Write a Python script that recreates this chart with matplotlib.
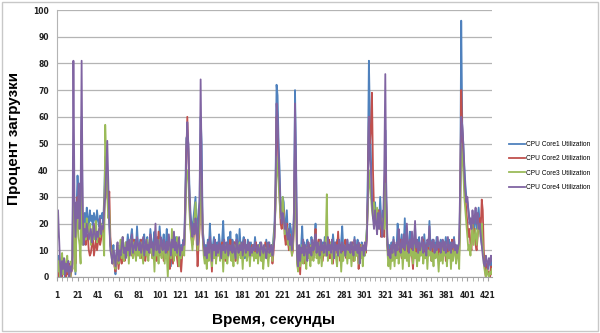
import numpy as np
import matplotlib
matplotlib.use("Agg")
import matplotlib.pyplot as plt
from matplotlib.patches import Rectangle
from matplotlib.ticker import FixedLocator

series_names = ["CPU Core1 Utilization", "CPU Core2 Utilization",
                "CPU Core3 Utilization", "CPU Core4 Utilization"]
colors = ["#4F81BD", "#C0504D", "#9BBB59", "#8064A2"]

core1 = [6, 4, 8, 2, 5, 1, 7, 3, 0, 5, 2, 6, 1, 4, 3, 8, 45, 20, 1, 25, 38, 30, 35, 22, 60,
         22, 18, 24, 20, 26, 22, 19, 25, 21, 23, 18, 24, 22, 20, 25, 21, 19, 23, 22, 24,
         20, 30, 45, 40, 35, 25, 20, 12, 10, 8,
         12, 6, 1, 9, 11, 5, 8, 12, 9, 14, 7, 10, 13, 11, 16, 12, 9, 15, 18, 13, 10, 14, 11, 19, 12,
         9, 14, 11, 8, 13, 16, 10, 12, 15, 9, 11, 18, 14, 10, 13, 17, 8, 12, 15, 11, 19, 14, 9, 13, 16,
         10, 12, 18, 7, 14, 11, 4, 13, 16, 9, 12, 15, 8, 11, 14, 5, 12, 10, 14, 13,
         30, 52, 53, 50, 35, 25, 20, 18, 22, 26, 30, 20, 18, 25, 28, 60, 50, 18, 14, 10,
         12, 8, 14, 10, 20, 13, 9, 12, 15, 11, 7, 13, 10, 16, 12, 9, 14, 21, 11, 8, 13, 10, 15, 12, 17,
         9, 14, 11, 13, 8, 16, 12, 10, 18, 11, 9, 13, 15, 7, 12, 10, 14, 11, 8, 13, 9, 12, 10, 15, 11,
         8, 12, 10, 13, 9, 11, 7, 12, 10, 14, 9, 11, 13, 8, 12, 10, 15, 20, 35,
         72, 68, 50, 40, 25, 22, 30, 28, 20, 18, 25, 16, 14, 20, 18, 12, 15, 25, 70, 45, 10,
         5, 10, 8, 12, 19, 9, 13, 11, 7, 14, 10, 12, 8, 15, 11, 9, 13, 20, 10, 12, 8, 14, 11, 9, 13,
         10, 15, 12, 8, 14, 11, 9, 13, 10, 16, 12, 8, 11, 14, 9, 12, 10, 13, 19, 11, 8, 12, 10, 14, 9,
         11, 13, 8, 12, 10, 15, 9, 11, 14, 7, 12, 10, 13, 9, 11, 8, 12, 18, 40,
         81, 60, 45, 30, 25, 20, 28, 22, 18, 25, 20, 30, 22, 18, 25, 20, 55, 30, 15, 10, 12,
         8, 13, 10, 15, 9, 12, 11, 20, 14, 10, 13, 16, 9, 12, 22, 11, 14, 10, 13, 17, 11, 9, 14, 12, 19,
         10, 13, 11, 15, 9, 12, 14, 10, 16, 11, 8, 13, 10, 21, 12, 9, 14, 11, 13, 10, 15, 12, 9, 11, 14,
         10, 13, 9, 12, 15, 10, 8, 14, 11, 13, 9, 12, 15, 10, 11, 8, 12, 10, 30,
         96, 57, 50, 42, 35, 30, 28, 25, 22, 20, 18, 22, 15, 20, 25, 18, 22, 26, 20, 15,
         12, 10, 8, 5, 2, 4, 3, 7, 5, 2, 6]

core2 = [2, 0, 5, 1, 3, 0, 4, 2, 1, 0, 3, 1, 5, 0, 2, 3, 40, 15, 5, 20, 30, 25, 28, 18, 55,
         15, 13, 14, 12, 16, 15, 10, 8, 9, 12, 15, 8, 11, 14, 10, 13, 16, 12, 14, 18,
         16, 22, 40, 38, 30, 28, 32, 15, 10, 6,
         9, 4, 2, 6, 8, 3, 7, 10, 5, 12, 8, 6, 11, 9, 13, 7, 10, 12, 8, 11, 14, 9, 7, 12, 10,
         8, 11, 14, 7, 10, 12, 6, 9, 13, 8, 11, 15, 10, 7, 12, 9, 14, 6, 10, 17, 8, 12, 9, 11, 6,
         10, 7, 13, 9, 12, 3, 8, 11, 5, 10, 9, 13, 7, 4, 10, 6, 2, 8, 12, 10,
         25, 45, 60, 48, 30, 20, 15, 12, 14, 18, 20, 15, 4, 12, 18, 45, 35, 15, 10, 7,
         9, 5, 11, 8, 14, 10, 2, 12, 9, 13, 6, 11, 8, 12, 10, 7, 13, 9, 11, 6, 10, 8, 12, 9, 14,
         7, 11, 9, 13, 6, 10, 12, 8, 11, 9, 7, 12, 10, 14, 8, 11, 9, 13, 7, 10, 12, 8, 11, 9, 13,
         7, 10, 8, 12, 9, 6, 11, 8, 13, 9, 10, 7, 12, 8, 11, 5, 9, 15, 30,
         60, 55, 40, 30, 20, 18, 22, 25, 15, 12, 20, 14, 10, 16, 12, 8, 10, 20, 50, 30, 6,
         3, 8, 1, 10, 7, 12, 9, 5, 11, 8, 13, 10, 6, 12, 9, 7, 11, 18, 8, 10, 14, 7, 12, 9, 6,
         10, 13, 8, 11, 9, 14, 7, 12, 10, 5, 11, 8, 13, 9, 17, 10, 6, 12, 8, 11, 9, 14, 7, 10, 12,
         8, 11, 9, 13, 6, 10, 12, 8, 11, 3, 9, 12, 7, 10, 8, 11, 9, 15, 30,
         60, 50, 55, 69, 40, 25, 20, 22, 18, 20, 25, 22, 15, 20, 18, 15, 45, 25, 12, 8, 10,
         6, 11, 9, 13, 7, 10, 12, 8, 11, 9, 14, 7, 10, 12, 8, 11, 9, 13, 6, 10, 12, 8, 3, 11, 9,
         13, 7, 10, 12, 8, 11, 9, 14, 7, 10, 12, 8, 11, 9, 13, 6, 10, 12, 8, 11, 9, 13, 7, 10, 12,
         8, 11, 9, 13, 6, 10, 12, 8, 11, 9, 14, 7, 10, 12, 8, 9, 11, 8, 25,
         70, 55, 45, 35, 30, 25, 20, 15, 18, 12, 10, 20, 15, 18, 12, 10, 15, 20, 22, 18,
         29, 25, 10, 3, 0, 5, 1, 2, 0, 4, 1]

core3 = [8, 2, 6, 0, 4, 9, 1, 7, 3, 5, 8, 2, 4, 0, 6, 3, 30, 10, 2, 18, 25, 15, 12, 5, 45,
         12, 16, 20, 14, 22, 18, 16, 20, 12, 15, 19, 14, 17, 21, 13, 16, 18, 15, 20, 17,
         15, 8, 57, 45, 30, 22, 25, 12, 8, 5,
         10, 6, 3, 8, 12, 5, 9, 14, 7, 15, 6, 10, 13, 8, 12, 5, 11, 14, 9, 7, 13, 10, 6, 12, 8,
         11, 7, 13, 9, 5, 12, 10, 8, 14, 6, 11, 9, 13, 7, 10, 2, 12, 8, 11, 5, 14, 9, 7, 12, 10,
         5, 11, 8, 0, 10, 13, 7, 18, 9, 6, 12, 8, 15, 10, 4, 11, 7, 9, 13, 8,
         20, 35, 40, 38, 25, 18, 14, 10, 16, 22, 28, 18, 10, 15, 20, 40, 30, 16, 8, 5,
         8, 3, 10, 6, 12, 9, 4, 11, 7, 13, 5, 10, 8, 12, 6, 9, 11, 2, 10, 7, 12, 5, 9, 11, 8,
         6, 10, 4, 12, 8, 11, 5, 9, 13, 7, 10, 3, 11, 8, 12, 6, 9, 11, 4, 10, 8, 12, 6, 9, 7,
         11, 5, 9, 12, 6, 10, 3, 8, 11, 7, 9, 4, 10, 8, 12, 6, 13, 18, 25,
         45, 40, 35, 28, 22, 25, 30, 24, 16, 20, 18, 12, 15, 10, 14, 8, 12, 18, 40, 25, 5,
         2, 9, 4, 6, 12, 5, 10, 8, 3, 11, 7, 9, 4, 12, 8, 6, 10, 14, 7, 11, 5, 13, 9, 4, 9,
         12, 8, 15, 31, 6, 11, 9, 13, 5, 10, 8, 12, 7, 4, 10, 8, 11, 2, 9, 6, 12, 8, 10, 5, 11,
         7, 10, 4, 9, 12, 6, 10, 8, 11, 5, 9, 7, 12, 4, 10, 8, 13, 18, 25,
         40, 35, 30, 25, 22, 28, 24, 20, 26, 22, 18, 24, 20, 16, 22, 18, 35, 20, 10, 4, 8,
         3, 9, 6, 11, 4, 10, 7, 12, 5, 9, 8, 11, 3, 10, 7, 12, 6, 9, 4, 11, 8, 10, 5, 12, 7,
         9, 4, 11, 6, 10, 8, 12, 5, 9, 7, 11, 3, 10, 8, 12, 6, 9, 4, 11, 7, 10, 8, 2, 9, 6,
         11, 5, 10, 8, 12, 4, 9, 7, 11, 3, 10, 6, 9, 12, 5, 8, 10, 3, 20,
         50, 45, 40, 30, 25, 20, 15, 10, 12, 8, 14, 20, 12, 15, 18, 12, 16, 20, 18, 15,
         20, 12, 5, 2, 0, 3, 1, 0, 2, 1, 3]

core4 = [12, 25, 15, 5, 0, 6, 3, 7, 1, 5, 2, 6, 0, 4, 2, 5, 81, 30, 15, 28, 22, 35, 18, 30, 81,
         25, 12, 18, 15, 20, 17, 14, 16, 18, 13, 15, 20, 16, 14, 17, 15, 18, 22, 16, 19,
         18, 25, 30, 40, 51, 35, 20, 10, 8, 5,
         10, 8, 4, 9, 13, 6, 10, 8, 12, 15, 9, 11, 7, 13, 10, 14, 8, 12, 16, 9, 11, 13, 10, 15, 12,
         10, 13, 9, 12, 15, 8, 11, 14, 10, 12, 9, 16, 11, 13, 8, 12, 20, 10, 14, 11, 9, 15, 12, 10, 14,
         11, 9, 13, 10, 16, 12, 8, 14, 11, 17, 10, 13, 9, 12, 15, 8, 11, 10, 13, 12,
         25, 45, 58, 50, 30, 22, 18, 15, 20, 16, 22, 18, 12, 20, 30, 74, 40, 16, 12, 8,
         11, 7, 13, 9, 15, 11, 6, 12, 10, 14, 8, 12, 9, 13, 11, 7, 12, 10, 14, 9, 11, 13, 8, 12, 10,
         12, 9, 13, 10, 7, 14, 11, 9, 12, 10, 13, 8, 11, 14, 9, 12, 10, 13, 8, 11, 9, 12, 10, 13, 11,
         9, 12, 10, 8, 13, 11, 9, 12, 10, 7, 11, 13, 9, 10, 12, 8, 11, 15, 30,
         65, 60, 45, 35, 25, 20, 24, 22, 18, 20, 16, 14, 18, 12, 15, 10, 14, 22, 65, 40, 8,
         4, 12, 6, 11, 9, 14, 8, 12, 10, 6, 13, 9, 11, 8, 14, 10, 12, 16, 9, 13, 11, 8, 14, 10, 12,
         9, 13, 11, 8, 15, 10, 12, 9, 14, 11, 7, 13, 10, 12, 8, 14, 11, 9, 13, 10, 12, 8, 11, 14, 10,
         12, 9, 13, 11, 8, 14, 10, 12, 9, 13, 5, 11, 10, 12, 8, 13, 10, 14, 30,
         60, 45, 40, 28, 22, 18, 25, 20, 16, 24, 18, 25, 20, 15, 22, 40, 76, 30, 12, 8, 10,
         7, 12, 9, 14, 11, 8, 13, 10, 18, 12, 9, 14, 11, 16, 10, 13, 20, 12, 9, 14, 11, 17, 10, 13, 21,
         11, 14, 9, 13, 10, 12, 15, 9, 13, 11, 8, 14, 12, 19, 10, 13, 11, 14, 9, 12, 10, 15, 11, 13, 9,
         12, 14, 10, 13, 9, 11, 15, 10, 12, 9, 13, 11, 14, 10, 12, 9, 11, 13, 35,
         60, 57, 50, 40, 32, 28, 30, 25, 20, 22, 18, 25, 20, 22, 26, 20, 24, 18, 20, 16,
         12, 8, 5, 4, 8, 6, 3, 7, 5, 8, 6]

x_major = list(range(1, 422, 20))
y_ticks = list(range(0, 101, 10))

fig = plt.figure(figsize=(6.0, 3.33), dpi=100)
ax = fig.add_axes([57/600, 1 - 277/333, (492 - 57)/600, (277 - 10)/333])

for s, c, n in zip([core1, core2, core3, core4], colors, series_names):
    xs = np.arange(1, len(s) + 1)
    ax.plot(xs, s, color=c, lw=1.3, label=n, solid_joinstyle="round")

n_max = max(len(core1), len(core2), len(core3), len(core4))
ax.set_xlim(1, n_max)
ax.set_ylim(0, 100)
ax.set_yticks(y_ticks)
ax.set_xticks(x_major)
ax.xaxis.set_minor_locator(FixedLocator(list(range(1, n_max + 1, 5))))
ax.grid(axis="y", color="#b4b4b4", lw=0.9)
ax.set_axisbelow(True)
for side in ["top", "right"]:
    ax.spines[side].set_visible(False)
ax.spines["left"].set_color("#b4b4b4")
ax.spines["bottom"].set_color("#a0a0a0")
ax.tick_params(axis="y", length=0, pad=6, labelsize=5.5, colors="#222222")
ax.tick_params(axis="x", which="both", length=3, color="#a0a0a0",
               labelsize=5.5, pad=7, labelcolor="#222222")
for lab in ax.get_xticklabels() + ax.get_yticklabels():
    lab.set_fontweight("bold")
    lab.set_family("DejaVu Sans")

ax.set_ylabel("Процент загрузки", fontsize=11, fontweight="bold",
              family="Liberation Sans")
ax.yaxis.set_label_coords(-0.082, 0.52)
ax.set_xlabel("Время, секунды", fontsize=11, fontweight="bold",
              family="Liberation Sans")
ax.xaxis.set_label_coords((274 - 57)/435, -(313 - 277)/267)

fig.legend(loc="center left", bbox_to_anchor=(503/600, 1 - 166/333),
           frameon=False, handlelength=2.4, handletextpad=0.1,
           labelspacing=1.1, prop={"family": "Liberation Sans", "size": 4.8})

fig.patches.append(Rectangle((0.003, 0.005), 0.993, 0.99, transform=fig.transFigure,
                             fill=False, edgecolor="#c8c8c8", lw=1.0))
fig.savefig("out.png", dpi=100)
